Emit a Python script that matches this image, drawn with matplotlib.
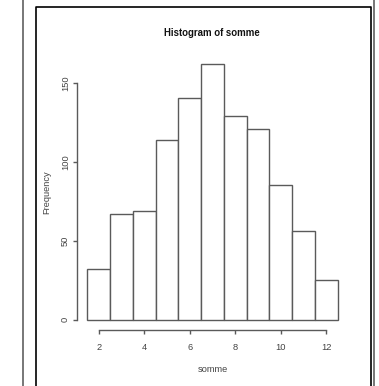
import numpy as np
import matplotlib.pyplot as plt
from matplotlib.lines import Line2D

plt.rcParams['font.family'] = ['Liberation Sans', 'DejaVu Sans']

# dice sums and their counts
values = [2, 3, 4, 5, 6, 7, 8, 9, 10, 11, 12]
counts = [32, 67, 69, 114, 140, 162, 129, 121, 85, 56, 25]
bin_edges = np.arange(1.5, 13.0, 1.0)
x_ticks = [2, 4, 6, 8, 10, 12]
y_ticks = [0, 50, 100, 150]

W, H = 379, 386
fig = plt.figure(figsize=(W / 100, H / 100), dpi=100)
fig.patch.set_facecolor('white')


def px(x, y):
    return x / W, 1 - y / H


# axes box in pixels: left 77, right 350, top 60, bottom 330
l, t = px(77, 60)
r, b = px(350, 330)
ax = fig.add_axes([l, b, r - l, t - b])

grey = '#5a5a5a'
ax.hist(values, bins=bin_edges, weights=counts, histtype='bar',
        facecolor='white', edgecolor=grey, linewidth=1.0)

xscale = 22.77
yscale = 1.58
xmin = 2 - (98.7 - 77) / xscale
ax.set_xlim(xmin, xmin + (350 - 77) / xscale)
ax.set_ylim(-(330 - 319.7) / yscale, (319.7 - 60) / yscale)

for side in ['top', 'right']:
    ax.spines[side].set_visible(False)
ax.spines['left'].set_bounds(0, 150)
ax.spines['bottom'].set_bounds(2, 12)
for side in ['left', 'bottom']:
    ax.spines[side].set_color(grey)
    ax.spines[side].set_linewidth(1.0)

ax.set_xticks(x_ticks)
ax.set_yticks(y_ticks)
ax.set_yticklabels([str(v) for v in y_ticks], rotation=90, va='center')
ax.tick_params(length=3.2, width=1.0, color=grey, labelcolor='#444444',
               labelsize=6.7)
ax.tick_params(axis='x', pad=6)
ax.tick_params(axis='y', pad=2)

ax.set_xlabel('somme', fontsize=6.7, color='#444444', va='center')
ax.set_ylabel('Frequency', fontsize=6.7, color='#444444', va='center')
ax.xaxis.set_label_coords(0.5 + (212.5 - 213.5) / 273, -(369 - 330) / 270)
ax.yaxis.set_label_coords(-(77 - 46.7) / 273, (330 - 191.7) / 270)
fig.text(*px(212, 33), 'Histogram of somme', fontsize=6.9, fontweight='bold',
         ha='center', va='center', color='#111111')

# page frame
fig.add_artist(Line2D(*zip(px(23.3, 0), px(23.3, H)), color='#777777', lw=1.4))
fig.add_artist(Line2D(*zip(px(374, 0), px(374, H)), color='#777777', lw=1.4))
frame = [px(35.5, H), px(35.5, 7), px(371.3, 7), px(371.3, H)]
fig.add_artist(Line2D([p[0] for p in frame], [p[1] for p in frame],
                      color='black', lw=1.2))

fig.savefig('out.png', dpi=100)
